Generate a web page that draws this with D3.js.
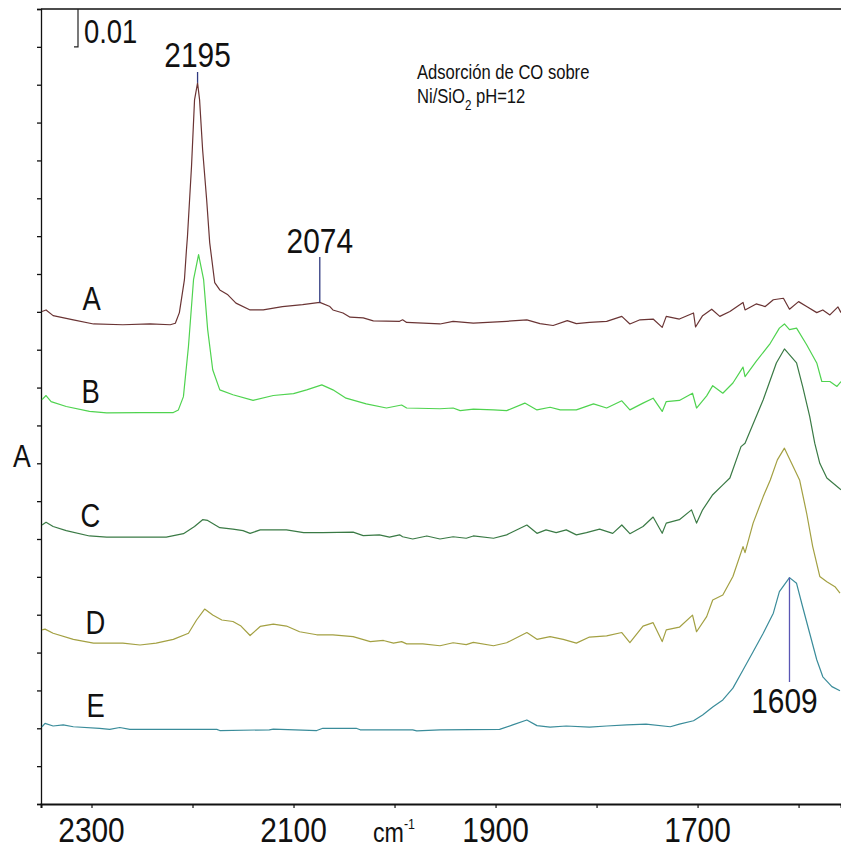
<!DOCTYPE html>
<html>
<head>
<meta charset="utf-8">
<script src="https://cdn.jsdelivr.net/npm/d3@7"></script>
<style>
  body { margin: 0; background: #fff; }
  text { font-family: "Liberation Sans", Arial, sans-serif; fill: #111; }
</style>
</head>
<body>
<svg id="chart"></svg>
<script>
// IR spectra of CO adsorbed on Ni/SiO2 (pH=12)
// each point: [wavenumber cm-1, absorbance]
const spectrumA = [[2349,.1301],[2345,.1305],[2338,.1290],[2318,.1279],[2298,.1268],[2269,.1266],[2242,.1268],[2222,.1266],[2217,.1270],[2213,.1298],[2208,.1385],[2206,.1464],[2205,.1499],[2201,.1684],[2198,.1860],[2195,.1905],[2193,.1860],[2190,.1728],[2186,.1596],[2183,.1483],[2178,.1377],[2173,.1358],[2165,.1345],[2157,.1323],[2143,.1305],[2130,.1305],[2111,.1314],[2091,.1319],[2074,.1325],[2064,.1314],[2061,.1305],[2051,.1297],[2044,.1286],[2031,.1284],[2021,.1276],[1995,.1275],[1992,.1279],[1988,.1272],[1955,.1268],[1942,.1275],[1922,.1270],[1889,.1275],[1869,.1279],[1856,.1269],[1843,.1264],[1829,.1277],[1820,.1269],[1807,.1272],[1790,.1275],[1775,.1288],[1767,.1268],[1757,.1279],[1744,.1281],[1735,.1259],[1731,.1288],[1718,.1281],[1704,.1297],[1702,.1260],[1695,.1290],[1686,.1307],[1678,.1288],[1668,.1301],[1655,.1325],[1653,.1305],[1642,.1321],[1633,.1314],[1625,.1332],[1615,.1336],[1609,.1307],[1600,.1327],[1592,.1314],[1582,.1298],[1576,.1305],[1569,.1292],[1561,.1313],[1558,.1298]];
const spectrumB = [[2349,.1068],[2345,.1079],[2340,.1063],[2325,.1050],[2302,.1037],[2285,.1033],[2252,.1034],[2219,.1034],[2214,.1041],[2209,.1076],[2204,.1209],[2199,.1385],[2194,.1451],[2189,.1385],[2185,.1253],[2180,.1147],[2173,.1094],[2160,.1081],[2140,.1066],[2120,.1079],[2100,.1084],[2087,.1094],[2072,.1107],[2061,.1094],[2048,.1072],[2028,.1057],[2008,.1046],[1993,.1054],[1988,.1046],[1955,.1044],[1942,.1046],[1935,.1039],[1922,.1043],[1902,.1041],[1889,.1039],[1871,.1059],[1859,.1041],[1846,.1048],[1836,.1041],[1820,.1041],[1803,.1057],[1790,.1046],[1775,.1065],[1767,.1041],[1754,.1059],[1744,.1072],[1735,.1037],[1731,.1063],[1718,.1066],[1705,.1085],[1701,.1046],[1691,.1078],[1685,.1105],[1675,.1085],[1665,.1112],[1655,.1154],[1653,.1129],[1642,.1169],[1628,.1217],[1619,.1257],[1614,.1268],[1609,.1253],[1602,.1257],[1592,.1213],[1582,.1165],[1577,.1116],[1569,.1116],[1562,.1103],[1558,.1116]];
const spectrumC = [[2349,.0737],[2345,.0744],[2338,.0733],[2325,.0722],[2302,.0708],[2285,.0705],[2252,.0705],[2226,.0705],[2209,.0714],[2198,.0733],[2190,.0751],[2185,.0749],[2173,.0730],[2160,.0726],[2150,.0722],[2143,.0715],[2133,.0724],[2107,.0724],[2090,.0717],[2071,.0717],[2041,.0718],[2031,.0709],[2015,.0711],[2005,.0705],[1995,.0711],[1992,.0706],[1982,.0700],[1968,.0708],[1955,.0700],[1942,.0706],[1929,.0702],[1922,.0708],[1902,.0702],[1889,.0711],[1869,.0737],[1859,.0715],[1850,.0724],[1840,.0717],[1830,.0724],[1820,.0711],[1810,.0717],[1797,.0726],[1784,.0715],[1775,.0737],[1767,.0714],[1754,.0733],[1744,.0758],[1735,.0715],[1731,.0742],[1718,.0751],[1706,.0777],[1701,.0742],[1695,.0777],[1685,.0817],[1675,.0843],[1668,.0861],[1657,.0944],[1653,.0953],[1635,.1068],[1622,.1165],[1614,.1202],[1602,.1165],[1596,.1103],[1589,.1024],[1584,.0953],[1579,.0900],[1572,.0861],[1558,.0830]];
const spectrumD = [[2349,.0460],[2346,.0462],[2338,.0451],[2318,.0435],[2298,.0425],[2269,.0425],[2252,.0420],[2236,.0425],[2219,.0435],[2204,.0451],[2196,.0486],[2188,.0515],[2180,.0499],[2171,.0486],[2160,.0482],[2152,.0470],[2143,.0445],[2133,.0469],[2120,.0475],[2107,.0470],[2094,.0455],[2077,.0447],[2061,.0447],[2041,.0442],[2024,.0429],[2011,.0432],[2001,.0425],[1993,.0429],[1988,.0423],[1972,.0423],[1955,.0418],[1942,.0426],[1929,.0421],[1922,.0427],[1902,.0418],[1889,.0426],[1869,.0453],[1859,.0435],[1846,.0442],[1833,.0435],[1820,.0425],[1807,.0441],[1790,.0444],[1775,.0453],[1767,.0426],[1754,.0470],[1744,.0479],[1735,.0429],[1731,.0460],[1718,.0467],[1705,.0499],[1701,.0455],[1691,.0495],[1685,.0539],[1675,.0552],[1665,.0601],[1655,.0680],[1653,.0664],[1645,.0742],[1635,.0812],[1628,.0856],[1621,.0909],[1614,.0940],[1599,.0856],[1592,.0768],[1586,.0680],[1579,.0601],[1572,.0587],[1564,.0574],[1559,.0557]];
const spectrumE = [[2349,.0204],[2346,.0213],[2338,.0206],[2328,.0209],[2318,.0204],[2292,.0200],[2282,.0197],[2272,.0202],[2262,.0197],[2176,.0197],[2173,.0194],[2124,.0196],[2120,.0198],[2077,.0194],[2071,.0200],[2038,.0200],[2034,.0196],[1982,.0196],[1978,.0193],[1955,.0196],[1896,.0197],[1883,.0209],[1869,.0222],[1859,.0207],[1846,.0203],[1830,.0206],[1807,.0203],[1790,.0206],[1770,.0209],[1751,.0211],[1727,.0204],[1718,.0211],[1704,.0220],[1695,.0235],[1685,.0256],[1675,.0275],[1665,.0306],[1655,.0354],[1645,.0402],[1635,.0451],[1625,.0504],[1619,.0561],[1609,.0598],[1602,.0583],[1596,.0521],[1589,.0451],[1582,.0381],[1576,.0336],[1567,.0310],[1559,.0299]];

const seriesNames = ["A", "B", "C", "D", "E"];
const seriesData = [spectrumA, spectrumB, spectrumC, spectrumD, spectrumE];
const seriesColors = ["#6a3434", "#4fd34f", "#3a7a45", "#a3a042", "#3a8c9a"];

const xTickValues = [2300, 2200, 2100, 2000, 1900, 1800, 1700, 1600];
const xTickLabels = [2300, 2100, 1900, 1700];
const yTickValues = d3.range(22).map(i => i / 100);

// peak marks: [wavenumber, series index, label]
const peaks = [[2195, 0, "2195"], [2074, 0, "2074"], [1609, 4, "1609"]];

const width = 841, height = 850;
const margin = { top: 9, right: 0, bottom: 46, left: 41 };
const sx = 0.83; // the original lettering is narrow

const svg = d3.select("#chart").attr("width", width).attr("height", height);

const x = d3.scaleLinear().domain([2350, 1558]).range([margin.left, width - margin.right]);
const y = d3.scaleLinear().domain([0, 0.21]).range([height - margin.bottom, margin.top]);

function label(str, px, py, size, anchor) {
    return svg.append("text")
        .attr("transform", `translate(${px},${py}) scale(${sx},1)`)
        .attr("text-anchor", anchor || "start")
        .style("font-size", size + "px")
        .text(str);
}

// frame: top line
svg.append("line")
    .attr("x1", margin.left).attr("x2", width)
    .attr("y1", margin.top).attr("y2", margin.top)
    .attr("stroke", "#111").attr("stroke-width", 1.3);

// axes, no numbers on the left one
svg.append("g")
    .attr("transform", `translate(${margin.left},0)`)
    .call(d3.axisLeft(y).tickValues(yTickValues).tickSize(4).tickFormat(""))
    .call(g => g.selectAll("path,line").attr("stroke", "#111").attr("stroke-width", 1.3));

svg.append("g")
    .attr("transform", `translate(0,${height - margin.bottom})`)
    .call(d3.axisBottom(x).tickValues(xTickValues).tickSize(4).tickFormat(""))
    .call(g => g.select("path").attr("stroke", "#111").attr("stroke-width", 2))
    .call(g => g.selectAll("line").attr("stroke", "#111").attr("stroke-width", 1.2));

xTickLabels.forEach(v => label(v, x(v), 842, 36, "middle"));

// axis titles
const cm = svg.append("text")
    .attr("transform", `translate(373,842) scale(${sx},1)`)
    .style("font-size", "28px");
cm.append("tspan").text("cm");
cm.append("tspan").attr("dy", -13).style("font-size", "15px").text("-1");
label("A", 13, 467, 32);

// spectra
const line = d3.line().x(d => x(d[0])).y(d => y(d[1]));
svg.append("g").selectAll("path")
    .data(seriesData)
    .enter().append("path")
    .attr("d", line)
    .attr("fill", "none")
    .attr("stroke", (d, i) => seriesColors[i])
    .attr("stroke-width", 1.2)
    .attr("stroke-linejoin", "round");

// curve letters
const letterPos = [[2309, 310], [2310, 403], [2311, 527], [2306, 634], [2305, 717]];
seriesNames.forEach((n, i) => label(n, x(letterPos[i][0]), letterPos[i][1], 33));

// peak markers
const peakLabelY = { "2195": [72, 67], "2074": [257, 253], "1609": [682, 713] };
peaks.forEach(p => {
    const pt = seriesData[p[1]].find(d => d[0] === p[0]);
    const ly = peakLabelY[p[2]];
    svg.append("line")
        .attr("x1", x(p[0])).attr("x2", x(p[0]))
        .attr("y1", y(pt[1])).attr("y2", ly[0])
        .attr("stroke", p[0] === 1609 ? "#5a56b4" : "#303a80")
        .attr("stroke-width", 1.3);
    label(p[2], x(p[0]) - (p[0] === 1609 ? 5 : 0), ly[1], 36, "middle");
});

// 0.01 scale bracket
svg.append("path")
    .attr("d", `M78,${y(0.21)} V${y(0.20)} H74`)
    .attr("fill", "none").attr("stroke", "#222").attr("stroke-width", 1.2);
label("0.01", 84, 43, 33);

// sample description
label("Adsorción de CO sobre", 417, 79, 20);
const desc2 = svg.append("text")
    .attr("transform", `translate(417,103) scale(${sx},1)`)
    .style("font-size", "20px");
desc2.append("tspan").text("Ni/SiO");
desc2.append("tspan").attr("dy", 7).style("font-size", "14px").text("2");
desc2.append("tspan").attr("dy", -7).text(" pH=12");
</script>
</body>
</html>
